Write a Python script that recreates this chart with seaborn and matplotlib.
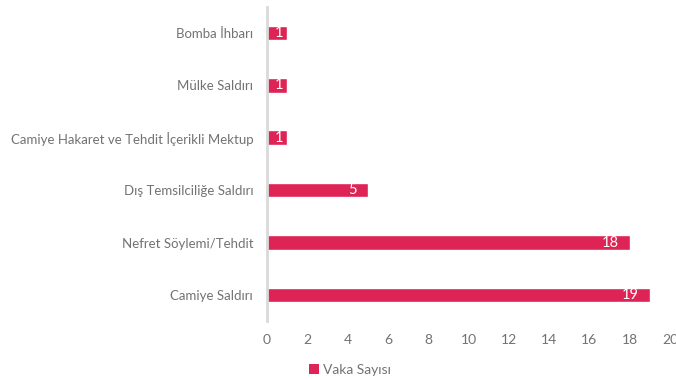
import matplotlib
matplotlib.use("Agg")
import matplotlib.pyplot as plt
import seaborn as sns
import pandas as pd
from matplotlib.patches import Patch

categories = [
    "Bomba İhbarı",
    "Mülke Saldırı",
    "Camiye Hakaret ve Tehdit İçerikli Mektup",
    "Dış Temsilciliğe Saldırı",
    "Nefret Söylemi/Tehdit",
    "Camiye Saldırı",
]
counts = [1, 1, 1, 5, 18, 19]
x_ticks = [0, 2, 4, 6, 8, 10, 12, 14, 16, 18, 20]
series_name = "Vaka Sayısı"

BAR = "#DE2454"
TEXT = "#757171"
AXIS = "#D9D9D9"

sns.set_theme(style="white")
plt.rcParams["font.family"] = ["Lato", "DejaVu Sans"]

df = pd.DataFrame({"kategori": categories, "sayi": counts})

fig = plt.figure(figsize=(6.76, 3.80), dpi=100)
ax = fig.add_axes([0.395, 0.155, 0.596, 0.827])

sns.barplot(data=df, y="kategori", x="sayi", orient="h", color=BAR,
            saturation=1, width=0.28, ax=ax)

ax.set_xlim(0, 20)
ax.set_ylim(len(categories) - 0.5, -0.5)
ax.set_xticks(x_ticks)
ax.set_xticklabels([str(t) for t in x_ticks])
ax.set_xlabel("")
ax.set_ylabel("")
ax.tick_params(axis="both", length=0, colors=TEXT, labelsize=9.5)
ax.tick_params(axis="x", pad=9, labelsize=10)
ax.tick_params(axis="y", pad=10)

for side in ["top", "right", "bottom"]:
    ax.spines[side].set_visible(False)
ax.spines["left"].set_color(AXIS)
ax.spines["left"].set_linewidth(2)
ax.grid(False)

# value labels inside the bar ends; short bars get a near-centred label
for i, v in enumerate(counts):
    if v < 2:
        ax.annotate(str(v), xy=(v / 2, i), xytext=(1.5, 0), textcoords="offset points",
                    ha="center", va="center", color="white", fontsize=10.5)
    else:
        ax.annotate(str(v), xy=(v, i), xytext=(-8, 0), textcoords="offset points",
                    ha="right", va="center", color="white", fontsize=10.5)

fig.legend(handles=[Patch(facecolor=BAR, edgecolor="none", label=series_name)],
           loc="center", bbox_to_anchor=(0.518, 0.026), frameon=False,
           handlelength=0.7, handleheight=0.7, handletextpad=0.3,
           labelcolor=TEXT, fontsize=10)

fig.savefig("out.png", dpi=100)
